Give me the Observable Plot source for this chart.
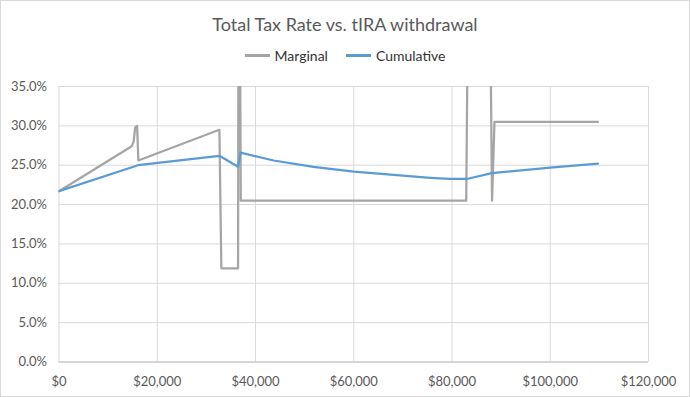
<!DOCTYPE html>
<html>
<head>
<meta charset="utf-8">
<script src="https://cdn.jsdelivr.net/npm/d3@7"></script>
<script src="https://cdn.jsdelivr.net/npm/@observablehq/plot@0.6"></script>
<style>
  html, body { margin: 0; padding: 0; background: #fff; }
  #wrap { width: 690px; height: 397px; box-sizing: border-box; border: 1px solid #D9D9D9; position: relative; font-family: Lato, "Open Sans", sans-serif; overflow: hidden; }
  #title { position: absolute; left: 0; right: 0; top: 12px; text-align: center; font-size: 18px; color: #595959; }
  #legend { position: absolute; left: 0; right: 0; top: 46px; display: flex; justify-content: center; gap: 18px; font-size: 14px; color: #333333; }
  .item { display: flex; align-items: center; gap: 5px; }
  .sw { width: 25px; height: 2.5px; display: inline-block; }
  #chart { position: absolute; left: 0; top: 69px; }
</style>
</head>
<body>
<div id="wrap">
  <div id="title">Total Tax Rate vs. tIRA withdrawal</div>
  <div id="legend"></div>
  <div id="chart"></div>
</div>
<script>
// withdrawal amounts ($) and rates (%)
const marginalX = [0, 14800, 15200, 15500, 15900, 16150, 32650, 33050, 36450, 36550, 36800, 37000, 82900, 83300, 87700, 88150, 88650, 109700];
const marginalY = [21.7, 27.4, 28.0, 29.8, 30.0, 25.6, 29.5, 11.9, 11.9, 50, 50, 20.5, 20.5, 50, 50, 20.5, 30.5, 30.5];
const cumulativeX = [0, 16100, 32650, 36450, 36950, 43700, 51800, 60000, 67500, 75600, 79600, 83000, 88100, 100000, 109700];
const cumulativeY = [21.7, 25.0, 26.2, 24.8, 26.6, 25.6, 24.8, 24.2, 23.8, 23.4, 23.25, 23.25, 24.0, 24.7, 25.2];
const seriesNames = ["Marginal", "Cumulative"];
const seriesColors = ["#A5A5A5", "#5B9BD5"];
const xTicks = [0, 20000, 40000, 60000, 80000, 100000, 120000];
const yTicks = [0, 5, 10, 15, 20, 25, 30, 35];

const marginalData = marginalX.map((x, i) => ({x, y: marginalY[i]}));
const cumulativeData = cumulativeX.map((x, i) => ({x, y: cumulativeY[i]}));

const legend = document.getElementById("legend");
seriesNames.forEach((n, i) => {
  const it = document.createElement("div");
  it.className = "item";
  it.innerHTML = `<span class="sw" style="background:${seriesColors[i]}"></span><span>${n}</span>`;
  legend.appendChild(it);
});

const chart = Plot.plot({
  width: 688,
  height: 327,
  marginLeft: 57.5,
  marginRight: 41,
  marginTop: 16,
  marginBottom: 35.5,
  style: {fontFamily: "Lato, 'Open Sans', sans-serif", fontSize: "13px", color: "#595959", background: "transparent"},
  x: {domain: [0, 120000], ticks: xTicks, tickFormat: d => "$" + d3.format(",")(d), tickSize: 0, tickPadding: 15, label: null},
  y: {domain: [0, 35], ticks: yTicks, tickFormat: d => d.toFixed(1) + "%", tickSize: 0, tickPadding: 12, label: null},
  marks: [
    Plot.gridY(yTicks, {stroke: "#D9D9D9", strokeOpacity: 1}),
    Plot.gridX(xTicks, {stroke: "#D9D9D9", strokeOpacity: 1}),
    Plot.ruleY([0], {stroke: "#BFBFBF"}),
    Plot.axisX({ticks: xTicks, tickFormat: d => "$" + d3.format(",")(d), tickSize: 0, tickPadding: 15, label: null}),
    Plot.axisY({ticks: yTicks, tickFormat: d => d.toFixed(1) + "%", tickSize: 0, tickPadding: 12, label: null}),
    Plot.line(marginalData, {x: "x", y: "y", stroke: seriesColors[0], strokeWidth: 2.25, clip: true}),
    Plot.line(cumulativeData, {x: "x", y: "y", stroke: seriesColors[1], strokeWidth: 2.25, clip: true})
  ]
});
document.getElementById("chart").appendChild(chart);
</script>
</body>
</html>
